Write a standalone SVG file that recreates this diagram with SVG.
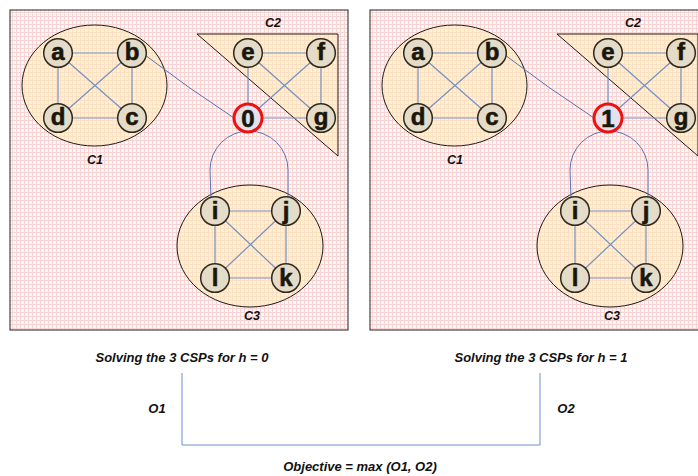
<svg xmlns="http://www.w3.org/2000/svg" width="698" height="476" viewBox="0 0 698 476">
  <defs>
    <pattern id="grid" width="4" height="4" patternUnits="userSpaceOnUse">
      <rect width="4" height="4" fill="#fef6f6"/>
      <rect width="4" height="1" fill="#f6d4d4"/>
      <rect width="1" height="4" fill="#f6d4d4"/>
    </pattern>
    <pattern id="gridY" width="4" height="4" patternUnits="userSpaceOnUse">
      <rect width="4" height="4" fill="#fff2c9"/>
      <rect width="4" height="1" fill="#fbe0c6"/>
      <rect width="1" height="4" fill="#fbe0c6"/>
    </pattern>
    <!-- one solver panel: three clusters around the shared variable -->
    <g id="panel">
      <rect x="10" y="10" width="338" height="320" fill="url(#grid)" stroke="#222" stroke-width="1"/>
      <g id="clusterC1">
        <ellipse cx="94.5" cy="85.5" rx="72.5" ry="60.5" class="cluster"/>
        <text x="95" y="164" class="clabel">C1</text>
      </g>
      <g id="clusterC2">
        <polygon points="197,34 338,34 338,156" class="cluster"/>
        <text x="273" y="27" class="clabel">C2</text>
      </g>
      <g id="clusterC3">
        <ellipse cx="250" cy="246" rx="73" ry="61" class="cluster"/>
        <text x="252" y="320" class="clabel">C3</text>
      </g>
      <g id="edges">
        <path d="M58 53 L132 53 M58 53 L58 118 M132 53 L132 118 M58 118 L132 118 M58 53 L132 118 M132 53 L58 118" class="edge"/>
        <path d="M248 53 L321 53 M248 53 L248 118 M321 53 L321 118 M248 118 L321 118 M248 53 L321 118 M321 53 L248 118" class="edge"/>
        <path d="M215 211 L286 211 M215 211 L215 278 M286 211 L286 278 M215 278 L286 278 M215 211 L286 278 M286 211 L215 278" class="edge"/>
        <path d="M145 55 Q 188 88 234 118" class="link"/>
        <path d="M211 199 L210 170 A 39 39 0 0 1 288 170 L288 199" class="link"/>
      </g>
      <g id="nodes">
        <g id="node-a"><circle cx="58" cy="53" r="14.3" class="node"/><text x="58" y="60" class="nlabel">a</text></g>
        <g id="node-b"><circle cx="132" cy="53" r="14.3" class="node"/><text x="132" y="60" class="nlabel">b</text></g>
        <g id="node-d"><circle cx="58" cy="118" r="14.3" class="node"/><text x="58" y="125" class="nlabel">d</text></g>
        <g id="node-c"><circle cx="132" cy="118" r="14.3" class="node"/><text x="132" y="125" class="nlabel">c</text></g>
        <g id="node-e"><circle cx="248" cy="53" r="14.3" class="node"/><text x="248" y="60" class="nlabel">e</text></g>
        <g id="node-f"><circle cx="321" cy="53" r="14.3" class="node"/><text x="321" y="60" class="nlabel">f</text></g>
        <g id="node-g"><circle cx="321" cy="118" r="14.3" class="node"/><text x="321" y="125" class="nlabel">g</text></g>
        <g id="node-i"><circle cx="215" cy="211" r="14.3" class="node"/><text x="215" y="219" class="nlabel">i</text></g>
        <g id="node-j"><circle cx="286" cy="211" r="14.3" class="node"/><text x="286" y="219" class="nlabel">j</text></g>
        <g id="node-l"><circle cx="215" cy="278" r="14.3" class="node"/><text x="215" y="286" class="nlabel">l</text></g>
        <g id="node-k"><circle cx="286" cy="278" r="14.3" class="node"/><text x="286" y="286" class="nlabel">k</text></g>
      </g>
    </g>
  </defs>
  <style>
    .cluster { fill: url(#gridY); stroke: #1a1a1a; stroke-width: 1; }
    .clabel { font-family: "Liberation Sans", Arial, sans-serif; font-size: 12.5px; font-weight: bold; font-style: italic; text-anchor: middle; fill: #111; }
    .edge { fill: none; stroke: #7391c6; stroke-width: 1.2; }
    .link { fill: none; stroke: #5673b8; stroke-width: 1; }
    .node { fill: #e4dcc8; stroke: #2e2a1e; stroke-width: 1.5; }
    .hnode { fill: #e4e1ea; stroke: #ee1111; stroke-width: 3; }
    .nlabel { font-family: "Liberation Sans", Arial, sans-serif; font-size: 24px; font-weight: bold; text-anchor: middle; fill: #1a160a; stroke: #1a160a; stroke-width: 0.6; }
    .caption { font-family: "Liberation Sans", Arial, sans-serif; font-size: 13px; font-weight: bold; font-style: italic; text-anchor: middle; fill: #111; }
    .conn { fill: none; stroke: #6f8fcc; stroke-width: 1; }
  </style>
  <rect width="698" height="476" fill="#fff"/>

  <!-- panel for h = 0 -->
  <g id="panelH0">
    <use href="#panel"/>
    <g id="node-h0"><circle cx="248" cy="118" r="14" class="hnode"/><text x="248" y="126.5" class="nlabel">0</text></g>
  </g>

  <!-- panel for h = 1 -->
  <g id="panelH1" transform="translate(360,0)">
    <use href="#panel"/>
    <g id="node-h1"><circle cx="248" cy="118" r="14" class="hnode"/><text x="248" y="126.5" class="nlabel">1</text></g>
  </g>

  <!-- combining the two sub-results -->
  <g id="connectors">
    <path d="M182 373 L182 445 L540 445 L540 373" class="conn"/>
  </g>
  <g id="captions">
    <text x="182" y="362" class="caption">Solving the 3 CSPs for h = 0</text>
    <text x="541" y="362" class="caption">Solving the 3 CSPs for h = 1</text>
    <text x="157" y="413" class="caption">O1</text>
    <text x="566" y="413" class="caption">O2</text>
    <text x="360" y="471" class="caption">Objective = max (O1, O2)</text>
  </g>
</svg>
